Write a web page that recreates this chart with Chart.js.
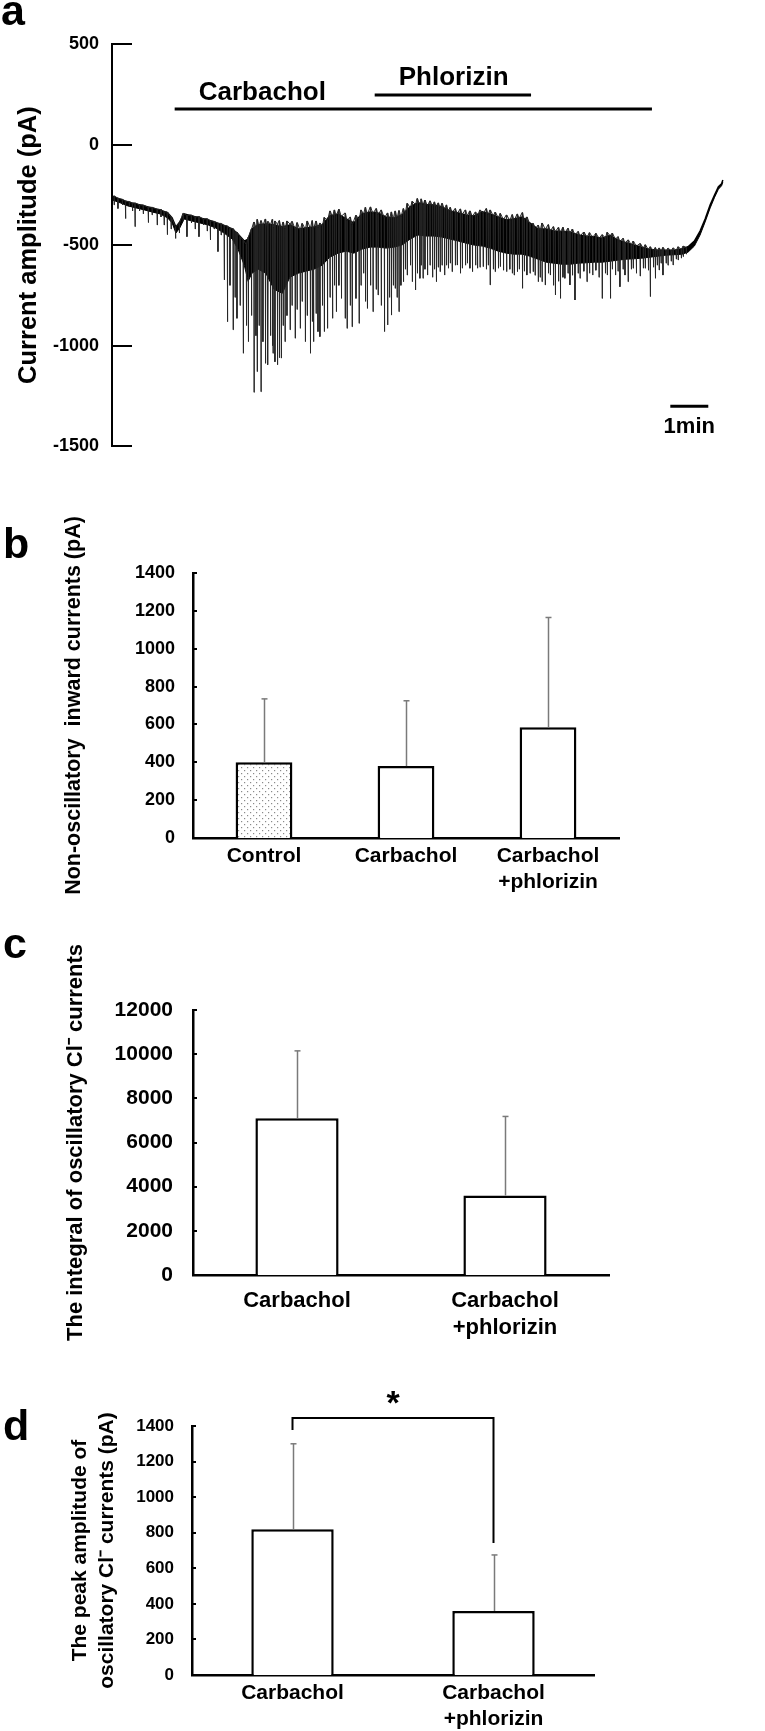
<!DOCTYPE html>
<html><head><meta charset="utf-8">
<script src="https://cdn.jsdelivr.net/npm/chart.js@4.4.0/dist/chart.umd.min.js"></script>
<style>
html,body{margin:0;padding:0;background:#fff;}
body{width:765px;height:1731px;position:relative;overflow:hidden;}
canvas{position:absolute;left:0;}
.lab{position:absolute;font:bold 43px "Liberation Sans",Arial,sans-serif;color:#000;line-height:1;}
</style></head><body>
<canvas id="ca" width="765" height="470" style="top:0"></canvas>
<canvas id="cb" width="765" height="450" style="top:460px"></canvas>
<canvas id="cc" width="765" height="440" style="top:910px"></canvas>
<canvas id="cd" width="765" height="381" style="top:1350px"></canvas>
<div class="lab" style="left:1px;top:-11px">a</div>
<div class="lab" style="left:3px;top:522px">b</div>
<div class="lab" style="left:3px;top:922px">c</div>
<div class="lab" style="left:3px;top:1404px">d</div>
<script>
// ---------- Panel a: current trace (time in s, current in pA) ----------
const envT   = [0,13,25,38,51,63,76,88,95,101,107,114,126,139,152,164,177,190,199,209,215,221,231,243,256,269,281,294,306,319,332,344,357,370,382,395,408,420,433,446,458,471,483,496,509,521,534,547,559,572,585,597,610,623,635,648,660,673,686,698,711,724,736,749,762,774,787,799,812,825,837,850,863,875,888,901,910,920,929,937,945,952,958,963,965];
const envTop = [-255,-272,-285,-295,-305,-315,-325,-340,-365,-410,-385,-345,-355,-365,-375,-388,-402,-420,-445,-480,-470,-420,-400,-395,-400,-410,-400,-420,-415,-410,-400,-355,-345,-370,-390,-345,-335,-340,-360,-365,-350,-310,-290,-298,-300,-310,-330,-340,-350,-355,-335,-345,-360,-375,-370,-360,-390,-420,-420,-430,-432,-435,-450,-455,-458,-466,-452,-475,-488,-500,-510,-522,-525,-525,-525,-518,-508,-480,-430,-370,-300,-250,-210,-195,-176];
const envBot = [-275,-290,-305,-315,-325,-335,-345,-365,-390,-440,-415,-370,-380,-390,-400,-415,-440,-470,-520,-600,-680,-640,-620,-640,-720,-740,-660,-640,-630,-620,-600,-560,-540,-530,-540,-520,-510,-510,-515,-510,-500,-470,-450,-455,-455,-460,-470,-480,-490,-500,-505,-515,-530,-540,-545,-545,-555,-570,-585,-590,-595,-595,-590,-588,-585,-585,-580,-575,-570,-568,-565,-560,-555,-550,-548,-545,-535,-505,-450,-385,-315,-262,-222,-205,-186];
const spikeT = [3,9,16,21,27,32,36,43,49,57,63,71,77,82,87,93,100,106,112,118,125,131,137,144,150,155,161,167,172,177,182,186,191,194,197,202,207,212,215,220,224,227,229,232,235,238,242,245,246,250,253,254,257,261,264,267,270,273,276,281,284,289,292,297,300,305,308,313,316,318,322,325,328,332,335,340,344,348,351,354,358,362,368,371,376,379,385,390,393,397,400,403,408,412,417,420,425,430,435,438,441,444,447,450,453,456,460,463,466,471,474,479,482,486,488,491,494,498,502,506,509,512,515,518,521,525,528,531,534,537,542,545,550,553,558,561,565,569,574,577,581,586,591,594,597,602,605,610,613,618,623,628,632,635,640,643,648,651,655,660,665,668,673,676,679,684,689,692,697,700,705,708,712,715,720,723,727,731,736,739,745,750,754,759,764,769,774,779,782,787,790,795,799,802,807,810,815,820,823,828,834,839,842,847,850,855,858,861,864,867,870,875,878,883,886,891,894,899,902,907];
const spikeTop = [-255,-268,-272,-282,-283,-292,-290,-300,-300,-312,-312,-322,-323,-334,-335,-362,-408,-392,-342,-352,-350,-360,-358,-370,-368,-379,-382,-392,-392,-402,-404,-418,-418,-432,-436,-458,-476,-496,-460,-420,-385,-410,-372,-405,-378,-400,-370,-410,-382,-398,-372,-412,-380,-395,-378,-415,-385,-418,-380,-395,-382,-420,-388,-425,-392,-420,-380,-415,-378,-418,-380,-412,-390,-405,-362,-378,-330,-358,-325,-352,-322,-356,-340,-378,-360,-398,-352,-372,-325,-345,-312,-345,-310,-342,-318,-348,-325,-365,-340,-372,-335,-366,-330,-362,-328,-358,-318,-340,-292,-315,-282,-298,-268,-300,-270,-298,-276,-305,-280,-306,-285,-310,-290,-314,-292,-322,-300,-330,-312,-336,-318,-342,-320,-346,-325,-352,-330,-356,-335,-356,-325,-342,-318,-347,-325,-354,-336,-364,-342,-372,-350,-376,-348,-374,-345,-366,-338,-375,-360,-395,-392,-420,-400,-425,-390,-420,-398,-430,-408,-432,-412,-436,-412,-438,-416,-440,-420,-450,-432,-454,-435,-460,-438,-462,-442,-466,-448,-465,-436,-456,-440,-470,-458,-482,-466,-490,-474,-498,-480,-505,-492,-515,-498,-522,-508,-528,-512,-530,-514,-528,-512,-530,-515,-528,-514,-526,-508,-522,-505,-512];
const spikeBot = [-300,-318,-300,-368,-310,-330,-408,-330,-345,-388,-350,-400,-360,-400,-448,-420,-467,-440,-380,-458,-390,-420,-458,-400,-430,-474,-420,-532,-450,-673,-881,-700,-921,-760,-864,-800,-1038,-900,-980,-850,-1232,-950,-1129,-900,-1229,-980,-1088,-900,-1095,-950,-1000,-1038,-1080,-1095,-1060,-1062,-900,-980,-850,-921,-800,-963,-820,-914,-780,-980,-850,-1038,-880,-980,-840,-930,-955,-800,-930,-914,-760,-864,-700,-831,-700,-765,-864,-914,-800,-906,-765,-889,-700,-640,-780,-815,-700,-831,-720,-748,-800,-930,-897,-760,-848,-700,-715,-760,-831,-700,-682,-620,-649,-600,-682,-723,-640,-665,-600,-665,-620,-649,-600,-660,-620,-682,-610,-632,-600,-649,-600,-615,-590,-632,-600,-599,-640,-615,-600,-590,-615,-632,-600,-615,-610,-607,-620,-600,-698,-620,-632,-615,-607,-625,-632,-620,-640,-649,-632,-620,-715,-630,-649,-640,-632,-650,-682,-660,-682,-698,-640,-649,-700,-748,-680,-765,-660,-665,-640,-698,-650,-773,-640,-665,-630,-682,-640,-649,-625,-660,-765,-640,-649,-765,-620,-649,-630,-707,-620,-649,-682,-620,-615,-640,-654,-615,-615,-625,-756,-610,-665,-600,-624,-590,-649,-590,-600,-580,-599,-570,-574,-565,-557,-545];
const drugNames  = ['Carbachol','Phlorizin'];
const drugStart  = [99,415];
const drugEnd    = [853,662];
const drugLevel  = [177,246];
const drugLabelT = [137,453];
const drugLabelV = [221,296];
const scaleBarT  = [882,942];
const scaleBarV  = -1301;
const scaleBarLabel = '1min';
const scaleLabelV = -1435;
const aTicks = {min:-1500,max:500,step:500};

// ---------- Panels b, c, d: bar charts ----------
const bCats  = ['Control','Carbachol',['Carbachol','+phlorizin']];
const bMeans = [400,380,585];
const bErr   = [335,345,580];
const cCats  = ['Carbachol',['Carbachol','+phlorizin']];
const cMeans = [7100,3600];
const cErr   = [3050,3580];
const dCats  = ['Carbachol',['Carbachol','+phlorizin']];
const dMeans = [820,360];
const dErr   = [480,315];
const dSig   = {top:1445, legs:[1378,742], star:'*', starV:1467};

const FONT = '"Liberation Sans", Arial, Helvetica, sans-serif';
Chart.defaults.font.family = FONT;
Chart.defaults.color = '#000';
Chart.defaults.animation = false;

function inwardTicks(len){
  return {id:'inticks'+len, afterDraw(chart){
    const y = chart.scales.y, ctx = chart.ctx;
    ctx.save(); ctx.strokeStyle='#000'; ctx.lineWidth=2;
    y.ticks.forEach(t=>{const py=Math.round(y.getPixelForValue(t.value));
      ctx.beginPath(); ctx.moveTo(y.right, py); ctx.lineTo(y.right+len, py); ctx.stroke();});
    ctx.restore();
  }};
}

// Panel a
const spikes = [];
for (let i=0;i<spikeT.length;i++){
  spikes.push({x:spikeT[i],y:spikeTop[i]},{x:spikeT[i]+0.4,y:spikeBot[i]},{x:spikeT[i]+0.8,y:spikeTop[i]});
}
const aDecor = {id:'aDecor', afterDraw(chart){
  const {ctx, scales:{x,y}} = chart;
  ctx.save(); ctx.fillStyle='#000';
  ctx.font='bold 26px '+FONT; ctx.textAlign='left'; ctx.textBaseline='alphabetic';
  drugNames.forEach((n,i)=>ctx.fillText(n, x.getPixelForValue(drugLabelT[i]), y.getPixelForValue(drugLabelV[i])));
  ctx.font='bold 22px '+FONT; ctx.textAlign='center';
  ctx.fillText(scaleBarLabel, x.getPixelForValue((scaleBarT[0]+scaleBarT[1])/2), y.getPixelForValue(scaleLabelV));
  ctx.restore();
}};
const aDatasets = [
  {data:envT.map((t,i)=>({x:t,y:envTop[i]})), borderColor:'#000', borderWidth:1.5, pointRadius:0, fill:'+1', backgroundColor:'#000', order:3},
  {data:envT.map((t,i)=>({x:t,y:envBot[i]})), borderColor:'#000', borderWidth:1, pointRadius:0, fill:false, order:3},
  {data:spikes, borderColor:'#262626', borderWidth:1, pointRadius:0, fill:false, order:2}
];
drugNames.forEach((n,i)=>aDatasets.push({data:[{x:drugStart[i],y:drugLevel[i]},{x:drugEnd[i],y:drugLevel[i]}], borderColor:'#000', borderWidth:3, pointRadius:0, fill:false, order:1}));
aDatasets.push({data:[{x:scaleBarT[0],y:scaleBarV},{x:scaleBarT[1],y:scaleBarV}], borderColor:'#000', borderWidth:3, pointRadius:0, fill:false, order:1});

new Chart(document.getElementById('ca'), {
  type:'line',
  data:{datasets:aDatasets},
  options:{responsive:false, devicePixelRatio:1, animation:false,
    layout:{padding:{top:44,bottom:0,left:0,right:20}},
    plugins:{legend:{display:false}, tooltip:{enabled:false}},
    elements:{line:{tension:0}},
    scales:{
      x:{type:'linear', min:0, max:1000, display:false},
      y:{min:aTicks.min, max:aTicks.max,
         ticks:{stepSize:aTicks.step, color:'#000', font:{size:18, weight:'bold'}, padding:13, callback:v=>String(v)},
         grid:{display:false, drawTicks:false},
         border:{display:true, color:'#000', width:2},
         title:{display:true, text:'Current amplitude (pA)', color:'#000', font:{size:25.5, weight:'bold'}, padding:{top:14,bottom:0}},
         afterFit(s){s.width=112;}}
    }},
  plugins:[aDecor, inwardTicks(20)]
});

// dotted pattern for the control bar
function dotPattern(){
  const c=document.createElement('canvas'); c.width=6; c.height=6;
  const g=c.getContext('2d'); g.fillStyle='#fff'; g.fillRect(0,0,6,6);
  g.fillStyle='#8a8a8a'; g.fillRect(1,1,1.2,1.2); g.fillRect(4,4,1.2,1.2);
  return g.createPattern(c,'repeat');
}

function barChart(id, cats, means, errs, cfg){
  const errPlugin = {id:'err', afterDatasetsDraw(chart){
    const meta=chart.getDatasetMeta(0), y=chart.scales.y, ctx=chart.ctx;
    ctx.save(); ctx.strokeStyle='#7a7a7a'; ctx.lineWidth=1.5;
    meta.data.forEach((bar,i)=>{
      const x=Math.round(bar.x)+0.5, y0=y.getPixelForValue(means[i]), y1=y.getPixelForValue(means[i]+errs[i]);
      ctx.beginPath(); ctx.moveTo(x,y0); ctx.lineTo(x,y1); ctx.stroke();
      ctx.beginPath(); ctx.moveTo(x-3,y1); ctx.lineTo(x+3,y1); ctx.stroke();
    });
    ctx.restore();
  }};
  const plugins=[errPlugin, inwardTicks(4)];
  if (cfg.extra) plugins.push(cfg.extra);
  return new Chart(document.getElementById(id), {
    type:'bar',
    data:{labels:cats, datasets:[{data:means, backgroundColor:cfg.fills, borderColor:'#000', borderWidth:{top:2.5,left:2.5,right:2.5,bottom:0}, borderSkipped:'bottom', barPercentage:cfg.bp, categoryPercentage:1}]},
    options:{responsive:false, devicePixelRatio:1, animation:false,
      layout:{padding:{top:cfg.top,right:cfg.right,left:0,bottom:0}},
      plugins:{legend:{display:false}, tooltip:{enabled:false}},
      scales:{
        x:{grid:{display:false, drawTicks:false}, border:{display:true,color:'#000',width:2.5},
           ticks:{color:'#000', font:{size:cfg.xfs, weight:'bold'}, padding:cfg.xpad, autoSkip:false, maxRotation:0, minRotation:0},
           afterFit(s){s.height=cfg.xh;}},
        y:{min:0, max:cfg.max, ticks:{stepSize:cfg.step, color:'#000', font:{size:cfg.yfs, weight:'bold'}, padding:cfg.ypad, callback:v=>String(v)},
           grid:{display:false, drawTicks:false}, border:{display:true,color:'#000',width:2.5},
           title:{display:true, text:cfg.title, color:'#000', font:{size:cfg.tfs, weight:'bold', lineHeight:cfg.tlh||1.2}, padding:{top:cfg.tpad,bottom:0}},
           afterFit(s){s.width=cfg.left;}}
      }},
    plugins
  });
}

barChart('cb', bCats, bMeans, bErr, {fills:[dotPattern(),'#fff','#fff'], bp:0.4, top:113, right:146, left:193, xh:72,
  max:1400, step:200, xfs:21, xpad:6, yfs:18, ypad:18, title:'Non-oscillatory  inward currents (pA)', tfs:21.5, tpad:61});

barChart('cc', cCats, cMeans, cErr, {fills:['#fff','#fff'], bp:0.4, top:100, right:156, left:193, xh:75,
  max:12000, step:2000, xfs:22, xpad:13, yfs:21, ypad:20, title:'The integral of oscillatory Cl\u207B currents', tfs:22, tpad:63});

const sigPlugin = {id:'sig', afterDraw(chart){
  const {ctx, scales:{x,y}} = chart;
  const x0=x.getPixelForValue(0), x1=x.getPixelForValue(1), yt=y.getPixelForValue(dSig.top);
  ctx.save(); ctx.strokeStyle='#000'; ctx.lineWidth=2;
  ctx.beginPath(); ctx.moveTo(x0,y.getPixelForValue(dSig.legs[0])); ctx.lineTo(x0,yt); ctx.lineTo(x1,yt); ctx.lineTo(x1,y.getPixelForValue(dSig.legs[1])); ctx.stroke();
  ctx.fillStyle='#000'; ctx.font='bold 34px '+FONT; ctx.textAlign='center'; ctx.textBaseline='alphabetic';
  ctx.fillText(dSig.star,(x0+x1)/2,y.getPixelForValue(dSig.starV));
  ctx.restore();
}};
barChart('cd', dCats, dMeans, dErr, {fills:['#fff','#fff'], bp:0.41, top:76, right:171, left:192, xh:56,
  max:1400, step:200, xfs:21, xpad:6, yfs:17, ypad:18, title:['The peak amplitude of','oscillatory Cl\u207B currents (pA)'], tfs:21, tlh:1.29, tpad:67, extra:sigPlugin});
</script>
</body></html>
